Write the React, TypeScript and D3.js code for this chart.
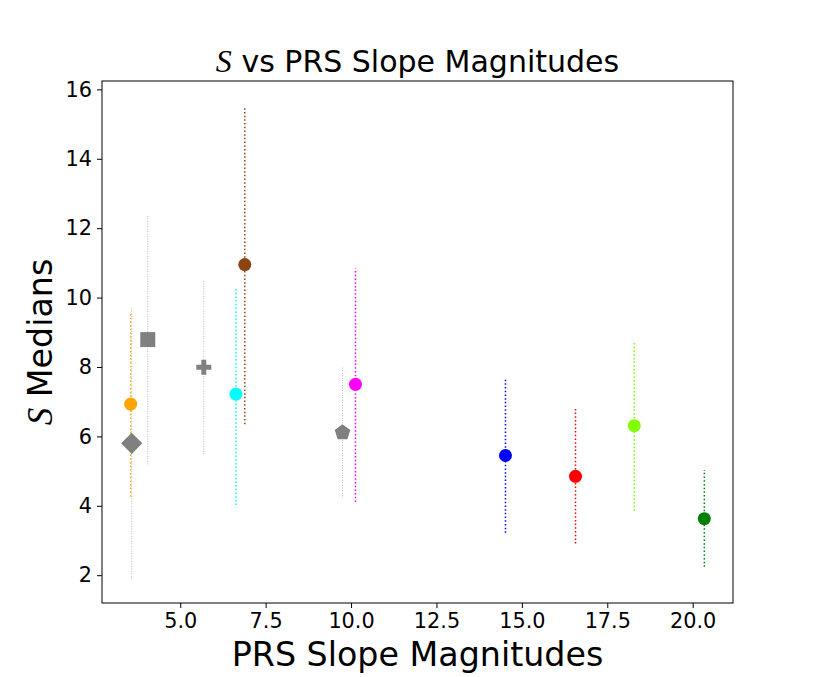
// App.tsx
import React, { useEffect, useRef } from 'react';
import { select, scaleLinear, axisBottom, axisLeft, min, max, symbol, symbolCircle, symbolSquare, symbolCross, path } from 'd3';

// PRS slope magnitude (x), S median (y) and the error-bar range for each group
const slopes = [3.55, 3.58, 4.05, 5.69, 6.63, 6.89, 9.75, 10.13, 14.52, 16.57, 18.29, 20.34];
const medians = [6.93, 5.8, 8.79, 7.99, 7.22, 10.95, 6.11, 7.5, 5.45, 4.85, 6.31, 3.63];
const lowers = [4.26, 1.88, 5.19, 5.48, 4.02, 6.35, 4.21, 4.11, 3.22, 2.91, 3.85, 2.24];
const uppers = [9.59, 9.69, 12.37, 10.48, 10.29, 15.5, 8.0, 10.84, 7.69, 6.82, 8.74, 5.03];
const colors = ['#ffa500', '#808080', '#808080', '#808080', '#00ffff', '#8b4513', '#808080', '#ff00ff', '#0000ff', '#ff0000', '#7fff00', '#008000'];
const shapes = ['circle', 'diamond', 'square', 'plus', 'circle', 'circle', 'pentagon', 'circle', 'circle', 'circle', 'circle', 'circle'];

const xTicks = [5, 7.5, 10, 12.5, 15, 17.5, 20];
const yTicks = [2, 4, 6, 8, 10, 12, 14, 16];

const W = 814;
const H = 677;
const FONT = '"DejaVu Sans", sans-serif';
const SFONT = '"Liberation Serif", serif';

const pentagon = (r: number) => {
  const p = path();
  for (let i = 0; i < 5; i++) {
    const a = -Math.PI / 2 + (i * 2 * Math.PI) / 5;
    if (i === 0) p.moveTo(r * Math.cos(a), r * Math.sin(a));
    else p.lineTo(r * Math.cos(a), r * Math.sin(a));
  }
  p.closePath();
  return p.toString();
};

const markerPath = (shape: string) => {
  if (shape === 'square') return symbol(symbolSquare, 225)() as string;
  if (shape === 'diamond') return symbol(symbolSquare, 225)() as string;
  if (shape === 'plus') return symbol(symbolCross, 125)() as string;
  if (shape === 'pentagon') return pentagon(8.2);
  return symbol(symbolCircle, 133)() as string;
};

const App: React.FC = () => {
  const svgRef = useRef<SVGSVGElement | null>(null);

  useEffect(() => {
    if (!svgRef.current) return;
    document.body.style.margin = '0';
    select(svgRef.current).selectAll('*').remove();

    const margin = { top: 81, right: W - 733, bottom: H - 603, left: 102 };
    const innerWidth = W - margin.left - margin.right;
    const innerHeight = H - margin.top - margin.bottom;

    // matplotlib-like 5% data margins
    const xMin = min(slopes) || 0;
    const xMax = max(slopes) || 1;
    const yMin = min(lowers) || 0;
    const yMax = max(uppers) || 1;
    const xPad = (xMax - xMin) * 0.05;
    const yPad = (yMax - yMin) * 0.05;

    const xScale = scaleLinear().domain([xMin - xPad, xMax + xPad]).range([0, innerWidth]);
    const yScale = scaleLinear().domain([yMin - yPad, yMax + yPad + 0.06]).range([innerHeight, 0]);

    const svg = select(svgRef.current).attr('width', W).attr('height', H);
    svg.append('rect').attr('width', W).attr('height', H).attr('fill', '#fff');

    const g = svg.append('g').attr('transform', `translate(${margin.left},${margin.top})`);

    const idx = slopes.map((_, i) => i);

    // error bars
    g.selectAll('line.err')
      .data(idx)
      .enter()
      .append('line')
      .attr('class', 'err')
      .attr('x1', (i: number) => xScale(slopes[i]))
      .attr('x2', (i: number) => xScale(slopes[i]))
      .attr('y1', (i: number) => yScale(lowers[i]))
      .attr('y2', (i: number) => yScale(uppers[i]))
      .attr('stroke', (i: number) => (colors[i] === '#808080' ? '#b4b4b4' : colors[i]))
      .attr('stroke-width', (i: number) => (colors[i] === '#808080' ? 0.9 : 1.5))
      .attr('stroke-dasharray', (i: number) => (colors[i] === '#808080' ? '1,1.5' : '1.5,2.2'));

    // markers
    g.selectAll('path.mark')
      .data(idx)
      .enter()
      .append('path')
      .attr('class', 'mark')
      .attr('d', (i: number) => markerPath(shapes[i]))
      .attr('transform', (i: number) =>
        `translate(${xScale(slopes[i])},${yScale(medians[i])})` + (shapes[i] === 'diamond' ? ' rotate(45)' : ''))
      .attr('fill', (i: number) => colors[i]);

    // axes
    const xAxis = axisBottom(xScale).tickValues(xTicks).tickFormat((d: any) => (+d).toFixed(1)).tickSize(5).tickPadding(5);
    const yAxis = axisLeft(yScale).tickValues(yTicks).tickSize(5).tickPadding(5);

    const xg = g.append('g').attr('transform', `translate(0, ${innerHeight})`).call(xAxis);
    const yg = g.append('g').call(yAxis);
    [xg, yg].forEach((a) => {
      a.select('.domain').remove();
      a.selectAll('text').attr('font-family', FONT).attr('font-size', 20.8).attr('fill', '#000');
      a.selectAll('line').attr('stroke', '#000').attr('stroke-width', 1);
    });

    g.append('rect')
      .attr('width', innerWidth)
      .attr('height', innerHeight)
      .attr('fill', 'none')
      .attr('stroke', '#000')
      .attr('stroke-width', 1);

    // title and labels
    const title = svg.append('text')
      .attr('x', margin.left + innerWidth / 2)
      .attr('y', 72)
      .attr('text-anchor', 'middle')
      .attr('font-family', FONT)
      .attr('font-size', 30);
    title.append('tspan').attr('font-family', SFONT).attr('font-style', 'italic').attr('font-size', 32).text('S');
    title.append('tspan').text(' vs PRS Slope Magnitudes');

    svg.append('text')
      .attr('x', margin.left + innerWidth / 2)
      .attr('y', 666)
      .attr('text-anchor', 'middle')
      .attr('font-family', FONT)
      .attr('font-size', 33.3)
      .text('PRS Slope Magnitudes');

    const ylab = svg.append('text')
      .attr('transform', `translate(52, ${margin.top + innerHeight / 2}) rotate(-90)`)
      .attr('text-anchor', 'middle')
      .attr('font-family', FONT)
      .attr('font-size', 33.3);
    ylab.append('tspan').attr('font-family', SFONT).attr('font-style', 'italic').attr('font-size', 35).text('S');
    ylab.append('tspan').text(' Medians');
  }, []);

  return <svg ref={svgRef} style={{ display: 'block' }}></svg>;
};

export default App;
